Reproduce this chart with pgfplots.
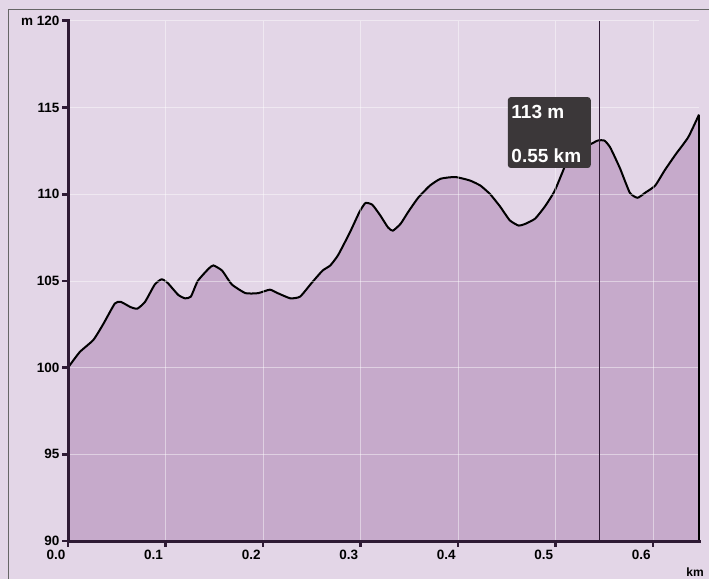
\documentclass[border=0pt]{standalone}
\usepackage{pgfplots}
\pgfplotsset{compat=1.18}
\usetikzlibrary{calc}
\usepackage{fontspec}
\setmainfont{Liberation Sans}
\definecolor{bgc}{HTML}{E3D6E7}
\definecolor{fillc}{HTML}{C6AACB}
\definecolor{axc}{HTML}{2E1A34}
\definecolor{tipc}{HTML}{3B3739}
\begin{document}
\begin{tikzpicture}[x=1pt,y=1pt]
\fill[bgc] (0,0) rectangle (709,579);
\path[use as bounding box] (0,0) rectangle (709,579);
\draw[gray!80!black, line width=1pt] (8.5,0) -- (8.5,569.5) -- (709,569.5);
\begin{axis}[
  at={(68pt,38pt)}, anchor=south west,
  scale only axis, width=631pt, height=520pt,
  xmin=0, xmax=0.647, ymin=90, ymax=120,
  axis x line*=bottom, axis y line*=left,
  axis line style={draw=none},
  axis on top,
  xtick={0,0.1,0.2,0.3,0.4,0.5,0.6},
  xticklabels={0.0,0.1,0.2,0.3,0.4,0.5,0.6},
  ytick={90,95,100,105,110,115,120},
  yticklabels={90,95,100,105,110,115,m 120},
  major tick style={draw=none},
  tick align=outside, major tick length=5pt,
  ticklabel style={font=\fontsize{13.5}{14}\selectfont\bfseries, text=black},
  xticklabel style={anchor=north east, xshift=1pt, yshift=-1pt},
  grid=major, major grid style={white, opacity=0.45, line width=1pt},
  xlabel={km}, xlabel style={at={(rel axis cs:1,0)}, anchor=north, yshift=-23pt, xshift=-4pt, font=\fontsize{12}{13}\selectfont\bfseries},
  clip=false,
]
\pgfplotstableread{
x y
0.000 100.0
0.012 100.9
0.026 101.6
0.036 102.5
0.048 103.7
0.054 103.8
0.064 103.5
0.071 103.4
0.079 103.8
0.089 104.8
0.096 105.1
0.102 104.9
0.113 104.2
0.120 104.0
0.126 104.1
0.133 105.0
0.144 105.7
0.149 105.9
0.158 105.6
0.168 104.8
0.182 104.3
0.195 104.3
0.207 104.5
0.215 104.3
0.228 104.0
0.238 104.1
0.250 104.9
0.261 105.6
0.269 105.9
0.277 106.5
0.289 107.8
0.299 109.0
0.305 109.5
0.312 109.4
0.320 108.8
0.328 108.1
0.333 107.9
0.341 108.3
0.349 109.0
0.359 109.8
0.371 110.5
0.382 110.9
0.397 111.0
0.412 110.8
0.423 110.5
0.433 110.0
0.443 109.3
0.453 108.5
0.462 108.2
0.469 108.3
0.479 108.6
0.489 109.3
0.499 110.2
0.510 111.7
0.518 112.9
0.522 113.0
0.532 112.8
0.543 113.1
0.550 113.1
0.556 112.7
0.566 111.5
0.576 110.1
0.584 109.8
0.592 110.1
0.602 110.5
0.612 111.4
0.623 112.3
0.636 113.3
0.647 114.6
}\elev
\addplot[fill=fillc, draw=none] table[x=x,y=y]{\elev} \closedcycle;
\addplot[black, line width=2pt, smooth, tension=0.3, line join=round] table[x=x,y=y]{\elev};
\coordinate (vb) at (axis cs:0.5446,90);
\coordinate (vt) at (axis cs:0.5446,120);
\coordinate (re) at (axis cs:0.647,114.6);
\coordinate (rb) at (axis cs:0.647,90);
\coordinate (t1) at (axis cs:0.451,111.52);
\coordinate (t2) at (axis cs:0.536,115.61);
\coordinate (l1) at (axis cs:0.4545,114.35);
\coordinate (l2) at (axis cs:0.4545,111.86);
\coordinate (o) at (axis cs:0,90);
\coordinate (yt) at (axis cs:0,120);
\coordinate (x1) at (axis cs:0.1,90);
\end{axis}
\draw[black, line width=2pt] (re) -- (rb);
\draw[axc, line width=0.8pt] (vb) -- (vt);
\draw[axc, line width=3pt] ([xshift=-6pt]yt) -- (yt) -- (o) -- ([xshift=1.5pt]rb);
\foreach \i in {0,1,2,3,4,5,6}{
  \draw[axc, line width=2.5pt] ($(o)!\i!(x1)$) -- ++(0,-6);
  \draw[axc, line width=2.5pt] ($(o)!\i/6!(yt)$) -- ++(-6,0);
}
\fill[tipc, rounded corners=3pt] (t1) rectangle (t2);
\node[anchor=base west, text=white, font=\fontsize{19}{20}\selectfont\bfseries, inner sep=0pt] at (l1) {113 m};
\node[anchor=base west, text=white, font=\fontsize{19}{20}\selectfont\bfseries, inner sep=0pt] at (l2) {0.55 km};
\end{tikzpicture}
\end{document}
